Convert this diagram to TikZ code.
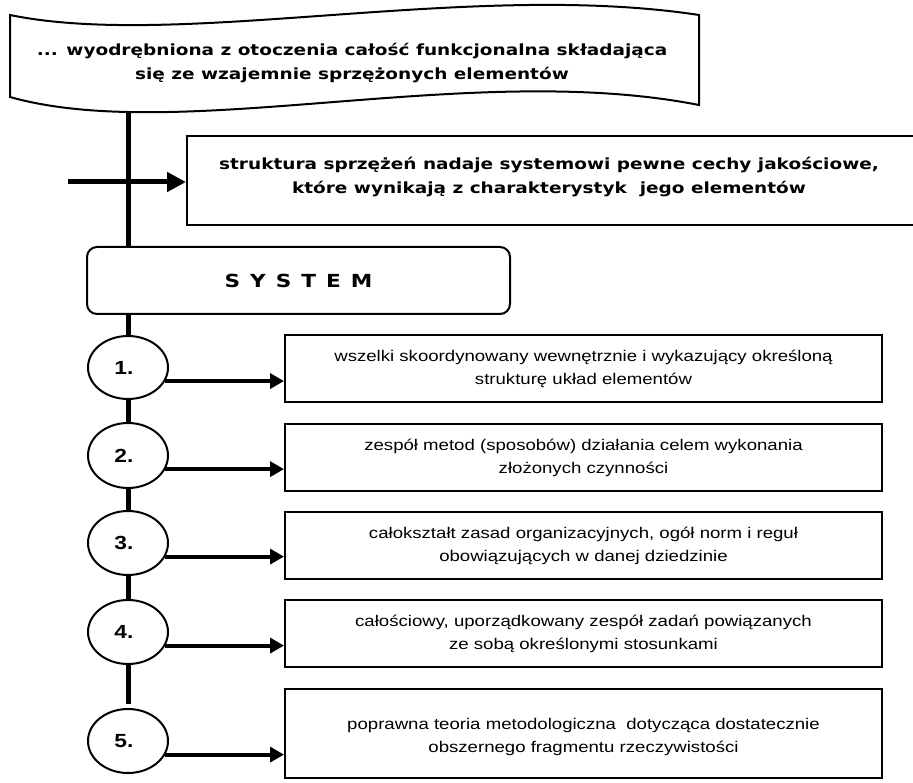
\documentclass[tikz,border=0pt]{standalone}
\usepackage{fontspec}
\setmainfont{Liberation Sans}[FakeStretch=1.2]
\newfontfamily\headfont{DejaVu Sans}[FakeStretch=1.2]
\usetikzlibrary{arrows.meta,shapes.geometric}

\begin{document}
\begin{tikzpicture}[x=1pt,y=-1pt,
  thinline/.style={line width=2pt},
  trunk/.style={line width=5pt},
  defbox/.style={draw,line width=2pt,minimum width=597pt,minimum height=67pt,inner sep=0pt},
  deftext/.style={font=\fontsize{15.5}{23}\selectfont,align=center,inner sep=0pt},
  headtext/.style={font=\headfont\bfseries\fontsize{15.4}{23.5}\selectfont,align=center,inner sep=0pt},
  numnode/.style={draw,ellipse,line width=2pt,minimum width=80pt,minimum height=64pt,inner sep=0pt},
  numlabel/.style={font=\bfseries\fontsize{19}{19}\selectfont,inner sep=0pt},
  feed/.style={line width=4pt,-{Triangle[length=14pt,width=15pt]}},
  bigfeed/.style={line width=5pt,-{Triangle[length=19pt,width=19pt]}},
]
\useasboundingbox (0,0) rectangle (913,783);

% wavy banner with the definition
\draw[thinline] (10,15) .. controls (180,50) and (470,-20) .. (699,15)
  -- (699,105) .. controls (470,60) and (180,145) .. (10,97) -- cycle;
\node[headtext] (toptext) at (352,63)
  {... wyodrębniona z otoczenia całość funkcjonalna składająca\\
   się ze wzajemnie sprzężonych elementów};

% box for the structure of couplings (runs off the right side)
\node[draw,line width=2pt,minimum width=740pt,minimum height=89pt,inner sep=0pt]
  (box2) at (557,180.5) {};
\node[headtext] (box2text) at (549,177)
  {struktura sprzężeń nadaje systemowi pewne cechy jakościowe,\\
   które wynikają z charakterystyk\ \ jego elementów};

% SYSTEM
\node[draw,line width=2pt,rounded corners=10pt,minimum width=423pt,minimum height=67pt,
      inner sep=0pt,font=\headfont\bfseries\fontsize{18}{18}\selectfont]
  (sys) at (298.5,280.5) {\spaceskip=10pt S Y S T E M};

% numbered meanings
\node[numnode,minimum height=63pt] (e1) at (128,367.5) {};
\node[numnode,minimum height=65pt] (e2) at (128,455.5) {};
\node[numnode] (e3) at (128,543) {};
\node[numnode] (e4) at (128,632) {};
\node[numnode] (e5) at (128,741) {};
\node[numlabel] (n1) at ([xshift=-4pt]e1.center) {1.};
\node[numlabel] (n2) at ([xshift=-4pt]e2.center) {2.};
\node[numlabel] (n3) at ([xshift=-4pt]e3.center) {3.};
\node[numlabel] (n4) at ([xshift=-4pt]e4.center) {4.};
\node[numlabel] (n5) at ([xshift=-4pt]e5.center) {5.};

\node[defbox] (b1) at (583.5,368.5) {};
\node[defbox] (b2) at (583.5,457.5) {};
\node[defbox] (b3) at (583.5,545.5) {};
\node[defbox] (b4) at (583.5,633.5) {};
\node[defbox,minimum height=89pt] (b5) at (583.5,733.5) {};

\node[deftext] (t1) at (b1) {wszelki skoordynowany wewnętrznie i wykazujący określoną\\ strukturę układ elementów};
\node[deftext] (t2) at (b2) {zespół metod (sposobów) działania celem wykonania\\ złożonych czynności};
\node[deftext] (t3) at (b3) {całokształt zasad organizacyjnych, ogół norm i reguł\\ obowiązujących w danej dziedzinie};
\node[deftext] (t4) at (b4) {całościowy, uporządkowany zespół zadań powiązanych\\ ze sobą określonymi stosunkami};
\node[deftext] (t5) at ([yshift=-3pt]b5.center) {poprawna teoria metodologiczna\ \ dotycząca dostatecznie\\ obszernego fragmentu rzeczywistości};

% vertical trunk
\coordinate (wavebot) at (128,111);
\draw[trunk] (wavebot) -- (wavebot |- sys.north);
\draw[trunk] (e1.north |- sys.south) -- (e1.north);
\draw[trunk] (e1) -- (e2);
\draw[trunk] (e2) -- (e3);
\draw[trunk] (e3) -- (e4);
\draw[trunk,shorten >=4pt] (e4) -- (e5);

% arrows
\coordinate (feedin) at (68,182);
\draw[bigfeed] (feedin) -- (feedin -| box2.west);
\draw[feed] (e1.-20) -- (e1.-20 -| b1.west);
\draw[feed] (e2.-20) -- (e2.-20 -| b2.west);
\draw[feed] (e3.-20) -- (e3.-20 -| b3.west);
\draw[feed] (e4.-20) -- (e4.-20 -| b4.west);
\draw[feed] (e5.-20) -- (e5.-20 -| b5.west);
\end{tikzpicture}
\end{document}
